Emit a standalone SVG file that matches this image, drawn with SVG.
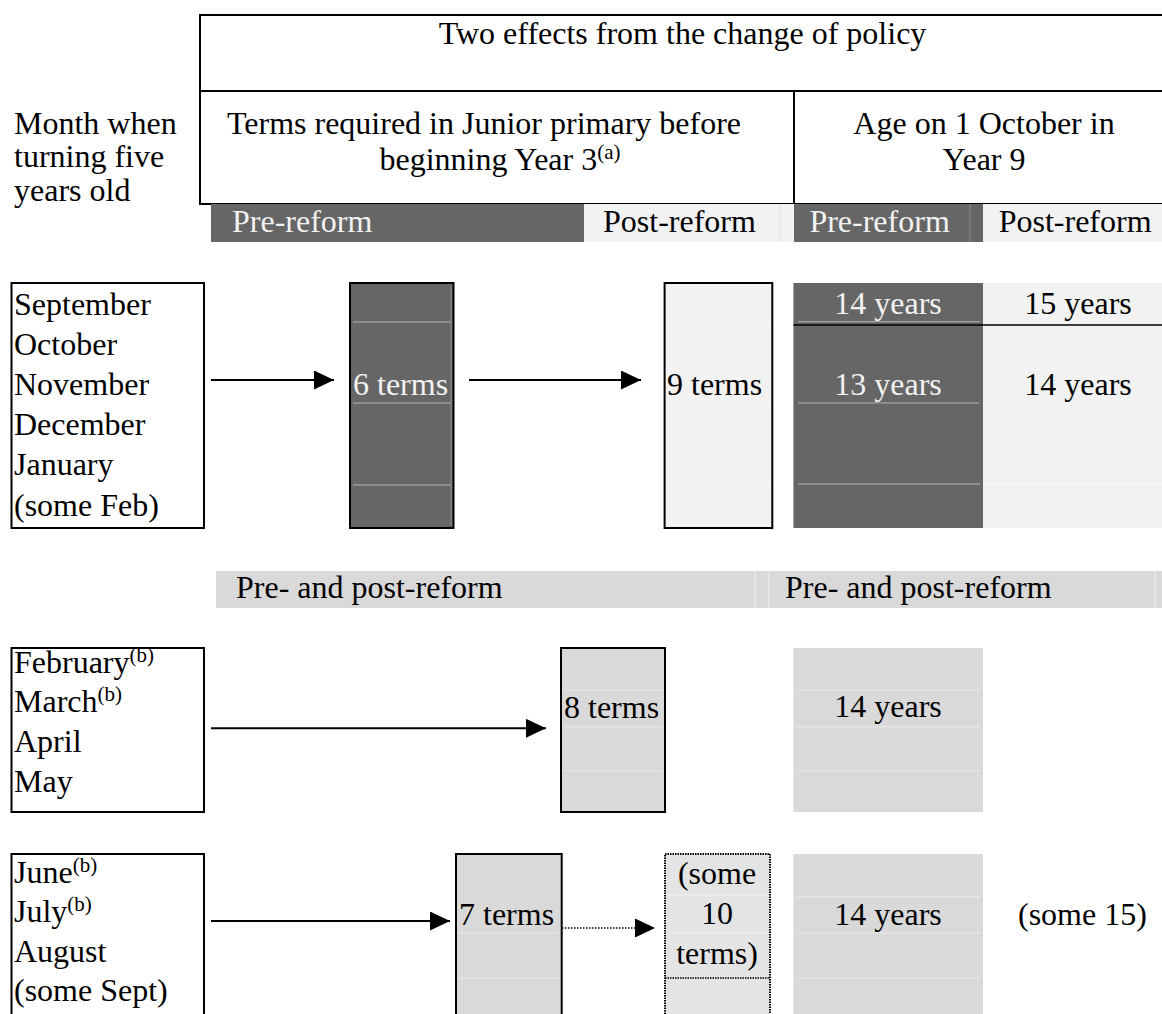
<svg xmlns="http://www.w3.org/2000/svg" width="1162" height="1014" viewBox="0 0 1162 1014">
<defs>
<style>
.t{font-family:"Liberation Serif","Times New Roman",serif;font-size:32px;fill:#000}
.w{fill:#f2f2f2}
.m{text-anchor:middle}
.sup{font-size:21px}
.box{stroke:#000;stroke-width:2}
.dk{fill:#666666}
.lt{fill:#f2f2f2}
.md{fill:#d9d9d9}
.gl{stroke:#b4b4b4;stroke-width:1}
.wl{stroke:#ececec;stroke-width:1}
.ln{stroke:#000;stroke-width:2;fill:none}
.conn{stroke:#000;stroke-width:2;fill:none}
.dot{stroke:#000;stroke-width:1.5;stroke-dasharray:1.5 1.5;fill:none}
</style>
<marker id="ah" viewBox="0 0 20 19" refX="20" refY="9.5" markerWidth="20" markerHeight="19" markerUnits="userSpaceOnUse" orient="auto">
<path d="M0,0 L20,9.5 L0,19 z" fill="#000"/>
</marker>
</defs>
<rect width="1162" height="1014" fill="#fff"/>

<g id="header">
<rect x="200" y="15" width="982" height="189" fill="none" class="box"/>
<line x1="200" y1="91" x2="1162" y2="91" class="ln"/>
<line x1="794" y1="91" x2="794" y2="204" class="ln"/>
<text class="t m" x="682.5" y="44">Two effects from the change of policy</text>
<text class="t m" x="484" y="133.5">Terms required in Junior primary before</text>
<text class="t m" x="500" y="170">beginning Year 3<tspan class="sup" dy="-11">(a)</tspan></text>
<text class="t m" x="984" y="133.5">Age on 1 October in</text>
<text class="t m" x="984" y="170">Year 9</text>
</g>

<g id="month-heading">
<text class="t" x="14" y="133.5">Month when</text>
<text class="t" x="14" y="167">turning five</text>
<text class="t" x="14" y="200.5">years old</text>
</g>

<g id="reform-bars">
<rect x="211" y="204" width="373" height="38" class="dk"/>
<rect x="584" y="204" width="210" height="38" class="lt"/>
<line x1="780" y1="204" x2="780" y2="242" stroke="#e2e2e2" stroke-width="1"/>
<rect x="794" y="204" width="189" height="38" class="dk"/>
<line x1="970" y1="204" x2="970" y2="242" stroke="#8a8a8a" stroke-width="1"/>
<rect x="983" y="204" width="179" height="38" class="lt"/>
<text class="t w" x="232" y="232">Pre-reform</text>
<text class="t" x="603" y="232">Post-reform</text>
<text class="t w" x="809.4" y="232">Pre-reform</text>
<text class="t" x="998.7" y="232">Post-reform</text>
</g>

<g id="months-sep-feb">
<rect x="11.5" y="283" width="192.5" height="245" fill="#fff" class="box"/>
<text class="t" x="14" y="314.5">September</text>
<text class="t" x="14" y="354.7">October</text>
<text class="t" x="14" y="394.9">November</text>
<text class="t" x="14" y="435.1">December</text>
<text class="t" x="14" y="475.3">January</text>
<text class="t" x="14" y="515.5">(some Feb)</text>
</g>

<g id="six-terms">
<rect x="350" y="283" width="103.5" height="245" class="dk box"/>
<line x1="353" y1="322" x2="451" y2="322" class="gl"/>
<line x1="353" y1="403" x2="451" y2="403" class="gl"/>
<line x1="353" y1="485" x2="451" y2="485" class="gl"/>
<line x1="451" y1="286" x2="451" y2="525" stroke="#8c8c8c" stroke-width="1"/>
<text class="t w" x="353" y="395">6 terms</text>
</g>

<g id="nine-terms">
<rect x="664.6" y="283" width="107.7" height="245" class="lt box"/>
<line x1="667" y1="323" x2="770" y2="323" stroke="#fafafa" stroke-width="1"/>
<line x1="667" y1="403" x2="770" y2="403" stroke="#fafafa" stroke-width="1"/>
<line x1="667" y1="485" x2="770" y2="485" stroke="#fafafa" stroke-width="1"/>
<text class="t" x="667" y="395">9 terms</text>
</g>

<g id="age-sep-feb">
<rect x="793.4" y="283" width="189.6" height="245" class="dk"/>
<rect x="983" y="283" width="179" height="245" class="lt"/>
<line x1="798" y1="321.7" x2="980" y2="321.7" class="gl"/>
<line x1="798" y1="403" x2="979" y2="403" class="gl"/>
<line x1="798" y1="484" x2="980" y2="484" class="gl"/>
<line x1="983" y1="403" x2="1162" y2="403" stroke="#fafafa" stroke-width="1"/>
<line x1="983" y1="484" x2="1162" y2="484" stroke="#fafafa" stroke-width="1"/>
<line x1="793.4" y1="325" x2="1162" y2="325" stroke="#000" stroke-width="1.5"/>
<text class="t w m" x="888" y="313.5">14 years</text>
<text class="t m" x="1078" y="313.5">15 years</text>
<text class="t w m" x="888" y="395">13 years</text>
<text class="t m" x="1078" y="395">14 years</text>
</g>

<g id="pre-post-bar">
<rect x="216" y="571" width="946" height="37" class="md"/>
<line x1="755" y1="571" x2="755" y2="608" stroke="#f0f0f0" stroke-width="1"/>
<line x1="769" y1="571" x2="769" y2="608" stroke="#f0f0f0" stroke-width="1"/>
<line x1="1155" y1="571" x2="1155" y2="608" stroke="#f0f0f0" stroke-width="1"/>
<text class="t" x="236" y="598">Pre- and post-reform</text>
<text class="t" x="785" y="598">Pre- and post-reform</text>
</g>

<g id="months-feb-may">
<rect x="11.5" y="648" width="192.5" height="164" fill="#fff" class="box"/>
<text class="t" x="14" y="673">February<tspan class="sup" dy="-11">(b)</tspan></text>
<text class="t" x="14" y="712">March<tspan class="sup" dy="-11">(b)</tspan></text>
<text class="t" x="14" y="752">April</text>
<text class="t" x="14" y="792">May</text>
</g>

<g id="eight-terms">
<rect x="561" y="648" width="104" height="164" class="md box"/>
<line x1="564" y1="690" x2="662" y2="690" class="wl"/>
<line x1="564" y1="727" x2="662" y2="727" class="wl"/>
<line x1="564" y1="771" x2="662" y2="771" class="wl"/>
<text class="t" x="564" y="718">8 terms</text>
</g>

<g id="age-feb-may">
<rect x="793.4" y="648" width="189.6" height="164" class="md"/>
<line x1="797" y1="690" x2="980" y2="690" class="wl"/>
<line x1="797" y1="727" x2="980" y2="727" class="wl"/>
<line x1="797" y1="771" x2="980" y2="771" class="wl"/>
<text class="t m" x="888" y="717">14 years</text>
</g>

<g id="months-jun-sep">
<rect x="11.5" y="854" width="192.5" height="175" fill="#fff" class="box"/>
<text class="t" x="14" y="883">June<tspan class="sup" dy="-11">(b)</tspan></text>
<text class="t" x="14" y="922">July<tspan class="sup" dy="-11">(b)</tspan></text>
<text class="t" x="14" y="962">August</text>
<text class="t" x="14" y="1001">(some Sept)</text>
</g>

<g id="seven-terms">
<rect x="456" y="854" width="105.7" height="175" class="md box"/>
<line x1="459" y1="933" x2="558" y2="933" class="wl"/>
<line x1="459" y1="978" x2="558" y2="978" class="wl"/>
<text class="t" x="459" y="925">7 terms</text>
</g>

<g id="ten-terms">
<rect x="665" y="854" width="105" height="175" fill="#e4e4e4" stroke="#000" stroke-width="2" stroke-dasharray="1.5 1"/>
<line x1="668" y1="895" x2="767" y2="895" stroke="#f2f2f2" stroke-width="1"/>
<line x1="668" y1="933" x2="767" y2="933" stroke="#f2f2f2" stroke-width="1"/>
<line x1="665" y1="978" x2="770" y2="978" stroke="#000" stroke-width="1.5" stroke-dasharray="1.5 1"/>
<text class="t m" x="717" y="884">(some</text>
<text class="t m" x="717" y="924">10</text>
<text class="t m" x="717" y="964">terms)</text>
</g>

<g id="age-jun-sep">
<rect x="793.4" y="854" width="189.6" height="175" class="md"/>
<line x1="797" y1="897" x2="980" y2="897" class="wl"/>
<line x1="797" y1="933" x2="980" y2="933" class="wl"/>
<line x1="797" y1="978" x2="980" y2="978" class="wl"/>
<text class="t m" x="888" y="925">14 years</text>
<text class="t" x="1018" y="925">(some 15)</text>
</g>

<g id="connectors">
<line x1="211" y1="380" x2="334" y2="380" class="conn" marker-end="url(#ah)"/>
<line x1="469" y1="380" x2="641" y2="380" class="conn" marker-end="url(#ah)"/>
<line x1="211" y1="728.3" x2="546" y2="728.3" class="conn" marker-end="url(#ah)"/>
<line x1="211" y1="921" x2="450" y2="921" class="conn" marker-end="url(#ah)"/>
<line x1="562" y1="928" x2="640" y2="928" class="dot"/>
<path d="M635,918.5 L655,928 L635,937.5 z" fill="#000"/>
</g>
</svg>
